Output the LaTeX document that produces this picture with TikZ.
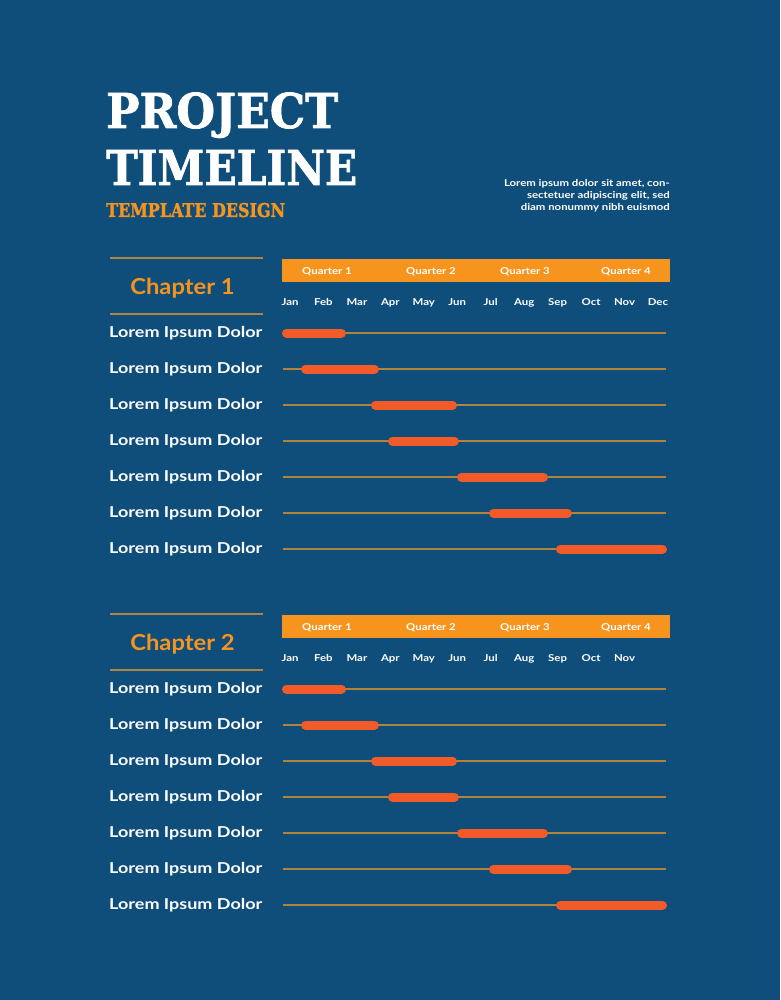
\documentclass[tikz,border=0pt]{standalone}
\usepackage{fontspec}
\setmainfont{Lato}[FakeStretch=1.2]
\newfontfamily\chapfont{Lato}[FakeStretch=1.08]
\newfontfamily\slabfont{DejaVu Serif}[FakeBold=1.5]
\usepackage{graphicx}
\usepackage{tikz}
\usetikzlibrary{positioning}
\definecolor{deepblue}{RGB}{15,78,122}
\definecolor{qorange}{RGB}{247,148,30}
\definecolor{barred}{RGB}{241,90,41}
\definecolor{goldline}{RGB}{176,132,58}

\begin{document}
\begin{tikzpicture}[
			x=1pt,y=-1pt,
			title/.style={
				anchor=base west,
				inner sep=0,
				text=white,
				font=\slabfont\bfseries\fontsize{48}{50}\selectfont,
			},
			subtitle/.style={
				title,
				text=qorange,
				font=\slabfont\bfseries\fontsize{19}{21}\selectfont,
			},
			desc/.style={
				anchor=base east,
				inner sep=0,
				text=white,
				font=\bfseries\fontsize{9.5}{12}\selectfont,
			},
			chap/.style={
				anchor=base,
				inner sep=0,
				text=qorange,
				font=\chapfont\bfseries\fontsize{22}{26}\selectfont,
			},
			qbar/.style={
				fill=qorange,
				anchor=north west,
				minimum width=388pt,
				minimum height=23pt,
				inner sep=0,
			},
			qlab/.style={
				anchor=base,
				inner sep=0,
				text=white,
				font=\bfseries\fontsize{9.5}{11}\selectfont,
			},
			mon/.style={
				qlab,
				anchor=center,
				text height=7pt,
				text depth=0pt,
				node distance=33.45pt,
			},
			row/.style={
				anchor=base west,
				inner sep=0,
				text=white,
				font=\bfseries\fontsize{15}{18}\selectfont,
			},
			rule/.style={draw=goldline,line width=1.2pt},
			track/.style={draw=goldline,line width=1.2pt},
			gbar/.style={draw=barred,line width=9pt,line cap=round},
		]
		\fill[deepblue] (0,0) rectangle (780,1000);
		\useasboundingbox (0,0) rectangle (780,1000);

		% heading
		\node[title] (ttl1) at (106,128) {\resizebox{232pt}{\height}{PROJECT}};
		\node[title] (ttl2) at (106,185) {\resizebox{251pt}{\height}{TIMELINE}};
		\node[subtitle] (ttl3) at (106,217) {\resizebox{179pt}{\height}{TEMPLATE DESIGN}};

		\node[desc] (desc1) at (670,187) {Lorem ipsum dolor sit amet, con-};
		\node[desc] (desc2) at (670,199) {sectetuer adipiscing elit, sed};
		\node[desc] (desc3) at (670,211) {diam nonummy nibh euismod};

		% chapter 1
		\draw[rule] (110,258) -- (263,258);
		\draw[rule] (110,314) -- (263,314);
		\node[chap] (ch1) at (182.5,294) {Chapter 1};

		\node[qbar] (c1q) at (282,259) {};
		\node[qlab] (c1q1) at (327,274.5) {Quarter 1};
		\node[qlab] (c1q2) at (431,274.5) {Quarter 2};
		\node[qlab] (c1q3) at (525,274.5) {Quarter 3};
		\node[qlab] (c1q4) at (626,274.5) {Quarter 4};

		\node[mon] (c1m1) at (290,301.5) {Jan} node[mon,right of=c1m1] (c1m2) {Feb} node[mon,right of=c1m2] (c1m3) {Mar}
			node[mon,right of=c1m3] (c1m4) {Apr} node[mon,right of=c1m4] (c1m5) {May} node[mon,right of=c1m5] (c1m6) {Jun}
			node[mon,right of=c1m6] (c1m7) {Jul} node[mon,right of=c1m7] (c1m8) {Aug} node[mon,right of=c1m8] (c1m9) {Sep}
			node[mon,right of=c1m9] (c1m10) {Oct} node[mon,right of=c1m10] (c1m11) {Nov} node[mon,right of=c1m11] (c1m12) {Dec};

		\node[row] (c1r1) at (109,337) {Lorem Ipsum Dolor};
		\node[row] (c1r2) at (109,373) {Lorem Ipsum Dolor};
		\node[row] (c1r3) at (109,409) {Lorem Ipsum Dolor};
		\node[row] (c1r4) at (109,445) {Lorem Ipsum Dolor};
		\node[row] (c1r5) at (109,481) {Lorem Ipsum Dolor};
		\node[row] (c1r6) at (109,517) {Lorem Ipsum Dolor};
		\node[row] (c1r7) at (109,553) {Lorem Ipsum Dolor};

		\draw[track] (283,333) -- (666,333);
		\draw[track] (283,369) -- (666,369);
		\draw[track] (283,405) -- (666,405);
		\draw[track] (283,441) -- (666,441);
		\draw[track] (283,477) -- (666,477);
		\draw[track] (283,513) -- (666,513);
		\draw[track] (283,549) -- (666,549);

		\draw[gbar] (286.5,333) -- (341.5,333);
		\draw[gbar] (305.5,369) -- (374.5,369);
		\draw[gbar] (375.5,405) -- (452.5,405);
		\draw[gbar] (392.5,441) -- (454.5,441);
		\draw[gbar] (461.5,477) -- (543.5,477);
		\draw[gbar] (493.5,513) -- (567.5,513);
		\draw[gbar] (560.5,549) -- (662.5,549);

		% chapter 2
		\draw[rule] (110,614) -- (263,614);
		\draw[rule] (110,670) -- (263,670);
		\node[chap] (ch2) at (182.5,650) {Chapter 2};

		\node[qbar] (c2q) at (282,615) {};
		\node[qlab] (c2q1) at (327,630.5) {Quarter 1};
		\node[qlab] (c2q2) at (431,630.5) {Quarter 2};
		\node[qlab] (c2q3) at (525,630.5) {Quarter 3};
		\node[qlab] (c2q4) at (626,630.5) {Quarter 4};

		\node[mon] (c2m1) at (290,657.5) {Jan} node[mon,right of=c2m1] (c2m2) {Feb} node[mon,right of=c2m2] (c2m3) {Mar}
			node[mon,right of=c2m3] (c2m4) {Apr} node[mon,right of=c2m4] (c2m5) {May} node[mon,right of=c2m5] (c2m6) {Jun}
			node[mon,right of=c2m6] (c2m7) {Jul} node[mon,right of=c2m7] (c2m8) {Aug} node[mon,right of=c2m8] (c2m9) {Sep}
			node[mon,right of=c2m9] (c2m10) {Oct} node[mon,right of=c2m10] (c2m11) {Nov};

		\node[row] (c2r1) at (109,693) {Lorem Ipsum Dolor};
		\node[row] (c2r2) at (109,729) {Lorem Ipsum Dolor};
		\node[row] (c2r3) at (109,765) {Lorem Ipsum Dolor};
		\node[row] (c2r4) at (109,801) {Lorem Ipsum Dolor};
		\node[row] (c2r5) at (109,837) {Lorem Ipsum Dolor};
		\node[row] (c2r6) at (109,873) {Lorem Ipsum Dolor};
		\node[row] (c2r7) at (109,909) {Lorem Ipsum Dolor};

		\draw[track] (283,689) -- (666,689);
		\draw[track] (283,725) -- (666,725);
		\draw[track] (283,761) -- (666,761);
		\draw[track] (283,797) -- (666,797);
		\draw[track] (283,833) -- (666,833);
		\draw[track] (283,869) -- (666,869);
		\draw[track] (283,905) -- (666,905);

		\draw[gbar] (286.5,689) -- (341.5,689);
		\draw[gbar] (305.5,725) -- (374.5,725);
		\draw[gbar] (375.5,761) -- (452.5,761);
		\draw[gbar] (392.5,797) -- (454.5,797);
		\draw[gbar] (461.5,833) -- (543.5,833);
		\draw[gbar] (493.5,869) -- (567.5,869);
		\draw[gbar] (560.5,905) -- (662.5,905);

	\end{tikzpicture}
\end{document}
